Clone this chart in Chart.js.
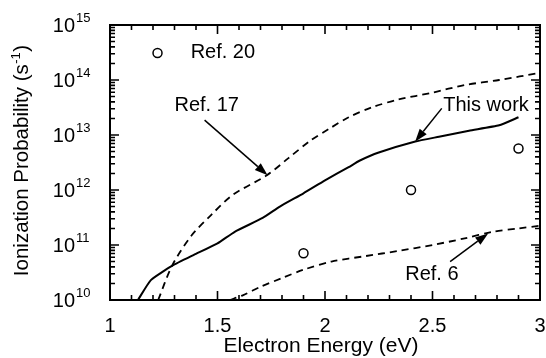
<!DOCTYPE html>
<html>
<head>
<meta charset="utf-8">
<title>Ionization Probability</title>
<script src="https://cdn.jsdelivr.net/npm/chart.js@4.4.1/dist/chart.umd.min.js"></script>
<style>
    body { margin: 0; background: #ffffff; }
    .box { position: relative; width: 546px; height: 358px; }
</style>
</head>
<body>
<div class="box"><canvas id="ionChart"></canvas></div>
<script>
var fontName = "'Liberation Sans', Arial, Helvetica, sans-serif";

// This work (solid line)
var thisWorkEnergy = [1.13, 1.19, 1.29, 1.39, 1.50, 1.58, 1.71, 1.79, 1.90, 2.00, 2.11, 2.16, 2.25, 2.42, 2.53, 2.67, 2.81, 2.90];
var thisWorkProb = [1.0e10, 2.3e10, 4.2e10, 6.6e10, 1.07e11, 1.74e11, 3.1e11, 5.0e11, 8.7e11, 1.5e12, 2.6e12, 3.4e12, 4.8e12, 7.6e12, 9.3e12, 1.2e13, 1.5e13, 2.1e13];

// Ref. 17 (upper dashed)
var ref17Energy = [1.224, 1.29, 1.38, 1.47, 1.57, 1.73, 1.83, 1.93, 2.02, 2.11, 2.22, 2.34, 2.50, 2.65, 2.81, 3.0];
var ref17Prob = [1.0e10, 4.3e10, 1.5e11, 3.5e11, 8.1e11, 1.86e12, 3.8e12, 7.8e12, 1.3e13, 2.1e13, 3.2e13, 4.4e13, 5.9e13, 8.1e13, 1.0e14, 1.35e14];

// Ref. 6 (lower dashed)
var ref6Energy = [1.557, 1.62, 1.70, 1.80, 1.90, 2.03, 2.19, 2.34, 2.50, 2.65, 2.78, 2.90, 3.00];
var ref6Prob = [1.0e10, 1.23e10, 1.74e10, 2.5e10, 3.55e10, 5.0e10, 6.3e10, 7.8e10, 1.0e11, 1.32e11, 1.74e11, 2.0e11, 2.24e11];

// Ref. 20 (open circles)
var ref20Energy = [1.9, 2.4, 2.9];
var ref20Prob = [7.1e10, 1.0e12, 5.7e12];

// tick labels
var xTickValues = [1, 1.5, 2, 2.5, 3];
var xTickLabels = ['1', '1.5', '2', '2.5', '3'];
var yTickValues = [1e10, 1e11, 1e12, 1e13, 1e14, 1e15];
var yTickExponents = ['10', '11', '12', '13', '14', '15'];
var xMinorStep = 0.1;
var yMinorMantissas = [2, 3, 4, 5, 6, 7, 8, 9];

// labels with arrows, in data units
var noteText = ['This work', 'Ref. 17', 'Ref. 6'];
var noteAt = [[2.55, 3.5e13], [1.30, 3.5e13], [2.373, 2.85e10]];
var arrowFrom = [[2.543, 3.05e13], [1.44, 1.86e13], [2.582, 4.97e10]];
var arrowTo = [[2.419, 7.55e12], [1.733, 1.86e12], [2.759, 1.62e11]];
var keyMarkAt = [1.221, 3.1e14];
var keyTextAt = [1.375, 3.1e14];

function pairs(xs, ys) {
    return xs.map(function (x, i) { return {x: x, y: ys[i]}; });
}

function drawArrow(ctx, x1, y1, x2, y2) {
    var ang = Math.atan2(y2 - y1, x2 - x1);
    var head = 13, half = 4.5;
    var bx = x2 - head * Math.cos(ang), by = y2 - head * Math.sin(ang);
    ctx.beginPath();
    ctx.moveTo(x1, y1);
    ctx.lineTo(bx, by);
    ctx.stroke();
    ctx.beginPath();
    ctx.moveTo(x2, y2);
    ctx.lineTo(bx + half * Math.sin(ang), by - half * Math.cos(ang));
    ctx.lineTo(bx - half * Math.sin(ang), by + half * Math.cos(ang));
    ctx.closePath();
    ctx.fill();
}

function tickMarks() {
    var marks = { x: [], y: [] };
    var xFrom = xTickValues[0];
    var xTo = xTickValues[xTickValues.length - 1];
    for (var k = 0; xFrom + k * xMinorStep <= xTo + 1e-9; k++) {
        marks.x.push({ v: xFrom + k * xMinorStep, major: k % 5 === 0 });
    }
    yTickValues.forEach(function (v, i) {
        marks.y.push({ v: v, major: true });
        if (i < yTickValues.length - 1) {
            yMinorMantissas.forEach(function (m) { marks.y.push({ v: v * m, major: false }); });
        }
    });
    return marks;
}

// frame and inward ticks on all four sides
var framePlugin = {
    id: 'framePlugin',
    afterDraw: function (chart) {
        var ctx = chart.ctx;
        var area = chart.chartArea;
        var xs = chart.scales.x;
        var ys = chart.scales.y;
        var marks = tickMarks();
        ctx.save();
        ctx.setLineDash([]);
        ctx.strokeStyle = '#000000';
        ctx.lineWidth = 1.6;
        marks.x.forEach(function (t) {
            var px = xs.getPixelForValue(t.v);
            var len = t.major ? 9 : 5;
            ctx.beginPath();
            ctx.moveTo(px, area.bottom);
            ctx.lineTo(px, area.bottom - len);
            ctx.moveTo(px, area.top);
            ctx.lineTo(px, area.top + len);
            ctx.stroke();
        });
        marks.y.forEach(function (t) {
            var py = ys.getPixelForValue(t.v);
            var len = t.major ? 9 : 5;
            ctx.beginPath();
            ctx.moveTo(area.left, py);
            ctx.lineTo(area.left + len, py);
            ctx.moveTo(area.right, py);
            ctx.lineTo(area.right - len, py);
            ctx.stroke();
        });
        ctx.lineWidth = 2;
        ctx.strokeRect(area.left, area.top, area.right - area.left, area.bottom - area.top);
        ctx.restore();
    }
};

// labels, titles and notes
var textPlugin = {
    id: 'textPlugin',
    afterDatasetsDraw: function (chart) {
        var ctx = chart.ctx;
        var area = chart.chartArea;
        var xs = chart.scales.x;
        var ys = chart.scales.y;
        ctx.save();
        ctx.strokeStyle = '#000';
        ctx.fillStyle = '#000';

        ctx.font = '20px ' + fontName;
        ctx.textAlign = 'center';
        ctx.textBaseline = 'alphabetic';
        xTickValues.forEach(function (v, i) {
            ctx.fillText(xTickLabels[i], xs.getPixelForValue(v), area.bottom + 32);
        });

        yTickValues.forEach(function (v, i) {
            var py = ys.getPixelForValue(v);
            ctx.font = '20px ' + fontName;
            ctx.textAlign = 'right';
            ctx.textBaseline = 'middle';
            ctx.fillText('10', area.left - 35, py + 1);
            ctx.font = '13px ' + fontName;
            ctx.textAlign = 'left';
            ctx.textBaseline = 'alphabetic';
            ctx.fillText(yTickExponents[i], area.left - 34, py - 3);
        });

        ctx.font = '21px ' + fontName;
        ctx.textAlign = 'center';
        ctx.textBaseline = 'alphabetic';
        ctx.fillText('Electron Energy (eV)', (area.left + area.right) / 2 - 4, area.bottom + 52);

        ctx.save();
        ctx.translate(28, 161);
        ctx.rotate(-Math.PI / 2);
        ctx.textAlign = 'left';
        var partA = 'Ionization Probability (s';
        var partB = '-1';
        var partC = ')';
        ctx.font = '20.5px ' + fontName;
        var wA = ctx.measureText(partA).width;
        var wC = ctx.measureText(partC).width;
        ctx.font = '13px ' + fontName;
        var wB = ctx.measureText(partB).width;
        var start = -(wA + wB + wC) / 2;
        ctx.font = '20.5px ' + fontName;
        ctx.fillText(partA, start, 0);
        ctx.fillText(partC, start + wA + wB + 1, 0);
        ctx.font = '13px ' + fontName;
        ctx.fillText(partB, start + wA + 0.5, -8);
        ctx.restore();

        ctx.font = '20px ' + fontName;
        ctx.textAlign = 'left';
        ctx.textBaseline = 'middle';
        ctx.lineWidth = 1.5;
        noteText.forEach(function (txt, i) {
            ctx.fillText(txt, xs.getPixelForValue(noteAt[i][0]), ys.getPixelForValue(noteAt[i][1]));
            drawArrow(ctx,
                xs.getPixelForValue(arrowFrom[i][0]), ys.getPixelForValue(arrowFrom[i][1]),
                xs.getPixelForValue(arrowTo[i][0]), ys.getPixelForValue(arrowTo[i][1]));
        });

        ctx.beginPath();
        ctx.arc(xs.getPixelForValue(keyMarkAt[0]), ys.getPixelForValue(keyMarkAt[1]), 4.5, 0, Math.PI * 2);
        ctx.fillStyle = '#fff';
        ctx.fill();
        ctx.stroke();
        ctx.fillStyle = '#000';
        ctx.fillText('Ref. 20', xs.getPixelForValue(keyTextAt[0]), ys.getPixelForValue(keyTextAt[1]));

        ctx.restore();
    }
};

var ctx = document.getElementById('ionChart');
var ionChart = new Chart(ctx, {
    type: 'scatter',
    data: {
        datasets: [{
            label: 'This work',
            data: pairs(thisWorkEnergy, thisWorkProb),
            showLine: true,
            borderColor: '#000',
            borderWidth: 2,
            pointRadius: 0,
            tension: 0.15
        }, {
            label: 'Ref. 17',
            data: pairs(ref17Energy, ref17Prob),
            showLine: true,
            borderColor: '#000',
            borderWidth: 1.8,
            borderDash: [7, 5],
            pointRadius: 0,
            tension: 0.3
        }, {
            label: 'Ref. 6',
            data: pairs(ref6Energy, ref6Prob),
            showLine: true,
            borderColor: '#000',
            borderWidth: 1.8,
            borderDash: [7, 5],
            pointRadius: 0,
            tension: 0.3
        }, {
            label: 'Ref. 20',
            data: pairs(ref20Energy, ref20Prob),
            showLine: false,
            pointRadius: 4.5,
            pointBorderWidth: 1.5,
            pointBorderColor: '#000',
            pointBackgroundColor: '#fff'
        }]
    },
    options: {
        responsive: true,
        maintainAspectRatio: false,
        animation: false,
        layout: { padding: { left: 110, right: 4, top: 25, bottom: 58 } },
        plugins: {
            legend: { display: false },
            tooltip: { enabled: false }
        },
        scales: {
            x: {
                type: 'linear',
                min: 1,
                max: 3,
                grid: { display: false },
                border: { display: false },
                ticks: { display: false },
                afterFit: function (s) { s.height = 0; }
            },
            y: {
                type: 'logarithmic',
                min: 1e10,
                max: 1e15,
                grid: { display: false },
                border: { display: false },
                ticks: { display: false },
                afterFit: function (s) { s.width = 0; }
            }
        }
    },
    plugins: [textPlugin, framePlugin]
});
</script>
</body>
</html>
